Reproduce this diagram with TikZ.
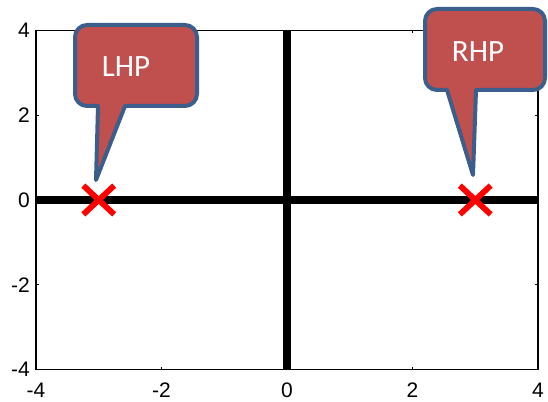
\documentclass[tikz,border=0pt]{standalone}
\usepackage{fontspec}
\setmainfont{Liberation Sans}
\newfontfamily\calloutfont{Carlito}
\usetikzlibrary{positioning}
\usetikzlibrary{shapes.misc}

\definecolor{bubblered}{HTML}{C0504D}
\definecolor{bubbleblue}{HTML}{3B5E8C}

\begin{document}
\begin{tikzpicture}[x=1pt,y=-1pt,
		frame/.style={line width=1.4pt,black},
		tickmark/.style={line width=0.9pt,black},
		axisline/.style={line width=7.5pt,black},
		ticklabel/.style={font=\fontsize{21}{21}\selectfont,inner sep=0pt},
		pole/.style={cross out,draw=red,line width=5.8pt,inner sep=0pt,minimum width=25pt,minimum height=23pt},
		bubble/.style={fill=bubblered,draw=bubbleblue,line width=4pt,line join=round},
		bubbletext/.style={font=\calloutfont\fontsize{31}{31}\selectfont,text=white,inner sep=0pt}]
		\useasboundingbox (0,0) rectangle (548,401);
		
		% plot area in data units
		\begin{scope}[shift={(287,200)},x=62.75pt,y=42.4pt]
		\coordinate (sw) at (-4,-4);
		\coordinate (ne) at (4,4);
		\draw[frame] (sw) rectangle (ne);
		
		\foreach \t [count=\i] in {-4,-2,0,2,4} {
			\draw[tickmark] (\t,-4) -- ++(0pt,3pt);
			\draw[tickmark] (\t,4) -- ++(0pt,-3pt);
			\draw[tickmark] (-4,\t) -- ++(3pt,0pt);
			\draw[tickmark] (4,\t) -- ++(-3pt,0pt);
			\node[ticklabel,anchor=north,yshift=-13pt] (xl\i) at (\t,-4) {\t};
			\node[ticklabel,anchor=east,xshift=-6pt] (yl\i) at (-4,\t) {\t};
		}
		
		\coordinate (xmin) at (-4,0);
		\coordinate (xmax) at (4,0);
		\coordinate (ymin) at (0,-4);
		\coordinate (ymax) at (0,4);
		\draw[axisline] (xmin) -- (xmax);
		\draw[axisline] (ymin) -- (ymax);
		
		\node[pole] (lpole) at (-3,0) {};
		\node[pole] (rpole) at (3,0) {};
		\end{scope}
		
		% callouts
		\draw[bubble,rounded corners=12pt] (75,25) -- (197,25) -- (197,106) [sharp corners] -- (125,106)
			-- (96,180) -- (98,106) [rounded corners=12pt] -- (75,106) -- cycle;
		\node[bubbletext] (lhp) at (126,67) {LHP};
		
		\draw[bubble,rounded corners=12pt] (425,9) -- (545,9) -- (545,90) [sharp corners] -- (476,90)
			-- (473,175) -- (447,90) [rounded corners=12pt] -- (425,90) -- cycle;
		\node[bubbletext] (rhp) at (478,52) {RHP};
\end{tikzpicture}
\end{document}
